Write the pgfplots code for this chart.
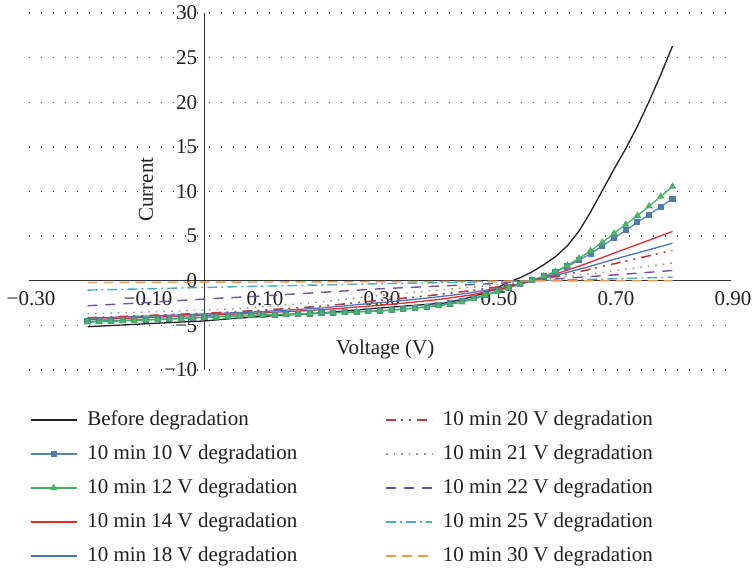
\documentclass[border=0pt]{standalone}
\usepackage{fontspec}
\setmainfont{Liberation Serif}
\usepackage{pgfplots}
\pgfplotsset{compat=1.18}
\definecolor{txt}{RGB}{35,31,32}
\definecolor{cBlack}{RGB}{35,31,32}
\definecolor{cBlueA}{RGB}{88,132,182}
\definecolor{cBlueAm}{RGB}{79,125,168}
\definecolor{cGreen}{RGB}{60,180,100}
\definecolor{cGreenm}{RGB}{120,178,95}
\definecolor{cRed}{RGB}{238,40,40}
\definecolor{cBlueB}{RGB}{70,115,196}
\definecolor{cDRed}{RGB}{185,60,60}
\definecolor{cGray}{RGB}{150,150,120}
\definecolor{cPurple}{RGB}{110,80,160}
\definecolor{cTeal}{RGB}{70,170,195}
\definecolor{cOrange}{RGB}{245,150,70}
\pgfplotsset{
  sBefore/.style={cBlack, line width=0.65pt, no markers},
  sTen/.style={cBlueA, line width=0.65pt, mark=square*, mark size=1.2pt, mark options={solid, fill=cBlueAm, draw=cBlueAm}},
  sTwelve/.style={cGreen, line width=0.65pt, mark=triangle*, mark size=1.5pt, mark options={solid, fill=cGreenm, draw=cGreen}},
  sFourteen/.style={cRed, line width=0.65pt, no markers},
  sEighteen/.style={cBlueB, line width=0.65pt, no markers},
  sTwenty/.style={cDRed, line width=0.8pt, no markers, dash pattern=on 5pt off 2.5pt on 1pt off 3pt on 1pt off 3pt},
  sTwentyOne/.style={cGray, line width=0.7pt, no markers, dash pattern=on 0.8pt off 3pt},
  sTwentyTwo/.style={cPurple, line width=0.7pt, no markers, dash pattern=on 5pt off 4pt},
  sTwentyFive/.style={cTeal, line width=0.7pt, no markers, dash pattern=on 5pt off 2pt on 1pt off 2pt},
  sThirty/.style={cOrange, line width=0.7pt, no markers, dash pattern=on 5pt off 3pt},
}
\begin{document}
\fontsize{10.5}{12.6}\selectfont
\begin{tikzpicture}[font=\fontsize{10.5}{12.6}\selectfont, text=txt]
\path[use as bounding box] (-14.5pt,-99pt) rectangle (362pt,185pt);
\begin{axis}[
  at={(0pt,0pt)}, anchor=south west,
  scale only axis, width=351pt, height=178.5pt,
  xmin=-0.3, xmax=0.9, ymin=-10, ymax=30,
  axis lines=middle,
  axis line style={-, color=black!80, line width=0.6pt},
  every inner x axis line/.append style={-},
  every inner y axis line/.append style={-},
  hide obscured x ticks=false, hide obscured y ticks=false,
  xtick={-0.3,-0.1,0.1,0.3,0.5,0.7,0.9},
  xticklabels={{−0.30},{−0.10},{0.10},{0.30},{0.50},{0.70},{0.90}},
  ytick={-10,-5,0,5,10,15,20,25,30},
  yticklabels={{−10},{−5},{0},{5},{10},{15},{20},{25},{30}},
  major tick length=0pt,
  xticklabel style={yshift=-1.5pt, xshift=1pt},
  ymajorgrids,
  major grid style={dash pattern=on 0.6pt off 5.4pt, line width=0.7pt, black!70},
  xlabel={Voltage (V)}, ylabel={Current},
  xlabel style={at={(axis description cs:0.5075,0.0575)}, anchor=center},
  ylabel style={at={(axis description cs:0.1667,0.505)}, anchor=center, rotate=90},
  clip=false,
  legend image code/.code={\draw[mark repeat=2,mark phase=2,#1] plot coordinates {(0pt,0pt) (11.5pt,0pt) (23pt,0pt)};},
  legend style={
    at={(axis description cs:0,0)}, anchor=north west, xshift=0.5pt, yshift=-16.5pt,
    draw=none, fill=none, inner sep=0pt, outer sep=0pt,
    legend columns=2,
    nodes={inner ysep=0pt, inner xsep=0pt, minimum height=17pt},
    row sep=0pt,
    /tikz/every odd column/.append style={column sep=5pt},
    /tikz/every even column/.append style={column sep=44pt},
  },
  legend cell align=left,
]
% Before degradation
\addplot[sBefore, forget plot] coordinates {
(-0.20,-5.15) (-0.10,-4.82) (0.00,-4.50) (0.05,-4.22) (0.10,-4.00) (0.20,-3.60)
(0.30,-3.05) (0.35,-2.80) (0.41,-2.50) (0.44,-2.10) (0.47,-1.55) (0.50,-0.80)
(0.52,-0.15) (0.54,0.35) (0.56,1.00) (0.58,1.80) (0.60,2.70) (0.62,3.90)
(0.64,5.55) (0.66,7.70) (0.68,10.1) (0.70,12.5) (0.72,14.8) (0.74,17.3)
(0.76,20.1) (0.78,23.1) (0.80,26.3)};
% 10 min 10 V
\addplot[sTen, forget plot] coordinates {
(-0.20,-4.55) (-0.18,-4.51) (-0.16,-4.47) (-0.14,-4.43) (-0.12,-4.39) (-0.10,-4.35)
(-0.08,-4.31) (-0.06,-4.26) (-0.04,-4.21) (-0.02,-4.15) (0.00,-4.09) (0.02,-4.03)
(0.04,-3.97) (0.06,-3.92) (0.08,-3.87) (0.10,-3.83) (0.12,-3.79) (0.14,-3.75)
(0.16,-3.71) (0.18,-3.67) (0.20,-3.62) (0.22,-3.57) (0.24,-3.52) (0.26,-3.47)
(0.28,-3.41) (0.30,-3.35) (0.32,-3.26) (0.34,-3.16) (0.36,-3.04) (0.38,-2.90)
(0.40,-2.74) (0.42,-2.55) (0.44,-2.30) (0.46,-1.97) (0.48,-1.58) (0.50,-1.18)
(0.52,-0.75) (0.54,-0.32) (0.56,0.08) (0.58,0.50) (0.60,1.00) (0.62,1.60)
(0.64,2.30) (0.66,3.05) (0.68,3.90) (0.70,4.78) (0.72,5.65) (0.74,6.55)
(0.76,7.40) (0.78,8.30) (0.80,9.20)};
% 10 min 12 V
\addplot[sTwelve, forget plot] coordinates {
(-0.20,-4.65) (-0.18,-4.60) (-0.16,-4.55) (-0.14,-4.50) (-0.12,-4.45) (-0.10,-4.40)
(-0.08,-4.35) (-0.06,-4.30) (-0.04,-4.25) (-0.02,-4.18) (0.00,-4.12) (0.02,-4.06)
(0.04,-4.00) (0.06,-3.95) (0.08,-3.90) (0.10,-3.86) (0.12,-3.82) (0.14,-3.78)
(0.16,-3.74) (0.18,-3.70) (0.20,-3.65) (0.22,-3.60) (0.24,-3.55) (0.26,-3.50)
(0.28,-3.45) (0.30,-3.40) (0.32,-3.30) (0.34,-3.20) (0.36,-3.08) (0.38,-2.95)
(0.40,-2.80) (0.42,-2.63) (0.44,-2.40) (0.46,-2.05) (0.48,-1.65) (0.50,-1.25)
(0.52,-0.80) (0.54,-0.35) (0.56,0.05) (0.58,0.50) (0.60,1.05) (0.62,1.70)
(0.64,2.50) (0.66,3.35) (0.68,4.30) (0.70,5.30) (0.72,6.30) (0.74,7.30)
(0.76,8.35) (0.78,9.45) (0.80,10.55)};
% 10 min 14 V
\addplot[sFourteen, forget plot] coordinates {
(-0.20,-4.35) (-0.10,-4.12) (0.00,-3.88) (0.10,-3.60) (0.20,-3.25) (0.30,-2.75)
(0.35,-2.45) (0.40,-2.10) (0.45,-1.65) (0.50,-1.00) (0.53,-0.55) (0.56,0.00)
(0.60,0.75) (0.65,1.85) (0.70,3.10) (0.75,4.30) (0.80,5.52)};
% 10 min 18 V
\addplot[sEighteen, forget plot] coordinates {
(-0.20,-4.20) (-0.10,-3.95) (0.00,-3.72) (0.10,-3.45) (0.20,-3.05) (0.30,-2.45)
(0.35,-2.15) (0.40,-1.80) (0.45,-1.40) (0.50,-0.85) (0.53,-0.45) (0.56,0.00)
(0.60,0.60) (0.65,1.45) (0.70,2.40) (0.75,3.30) (0.80,4.20)};
% 10 min 20 V
\addplot[sTwenty, forget plot] coordinates {
(-0.20,-4.15) (-0.10,-3.90) (0.00,-3.65) (0.10,-3.30) (0.20,-2.85) (0.30,-2.20)
(0.35,-1.90) (0.40,-1.55) (0.45,-1.15) (0.50,-0.70) (0.53,-0.35) (0.56,0.00)
(0.60,0.45) (0.65,1.15) (0.70,1.90) (0.75,2.65) (0.80,3.40)};
% 10 min 21 V
\addplot[sTwentyOne, forget plot] coordinates {
(-0.20,-3.70) (-0.10,-3.50) (0.00,-3.30) (0.05,-3.15) (0.10,-2.90) (0.15,-2.65)
(0.20,-2.35) (0.25,-2.00) (0.30,-1.65) (0.35,-1.35) (0.40,-1.05) (0.45,-0.75)
(0.50,-0.45) (0.56,0.00) (0.60,0.30) (0.65,0.70) (0.70,1.10) (0.75,1.55) (0.80,2.00)};
% 10 min 22 V
\addplot[sTwentyTwo, forget plot] coordinates {
(-0.20,-2.80) (-0.10,-2.45) (0.00,-2.05) (0.10,-1.70) (0.20,-1.30) (0.30,-0.90)
(0.40,-0.60) (0.50,-0.30) (0.56,0.00) (0.60,0.20) (0.70,0.65) (0.80,1.15)};
% 10 min 25 V
\addplot[sTwentyFive, forget plot] coordinates {
(-0.20,-1.05) (-0.10,-0.90) (0.00,-0.75) (0.10,-0.60) (0.20,-0.47) (0.30,-0.33)
(0.40,-0.22) (0.50,-0.10) (0.56,0.00) (0.60,0.07) (0.70,0.22) (0.80,0.40)};
% 10 min 30 V
\addplot[sThirty, forget plot] coordinates {
(-0.20,-0.20) (0.00,-0.16) (0.20,-0.12) (0.40,-0.08) (0.56,-0.02) (0.80,0.02)};
% legend, filled column by column
\addlegendimage{sBefore}\addlegendentry{Before degradation}
\addlegendimage{sTwenty}\addlegendentry{10 min 20 V degradation}
\addlegendimage{sTen}\addlegendentry{10 min 10 V degradation}
\addlegendimage{sTwentyOne}\addlegendentry{10 min 21 V degradation}
\addlegendimage{sTwelve}\addlegendentry{10 min 12 V degradation}
\addlegendimage{sTwentyTwo}\addlegendentry{10 min 22 V degradation}
\addlegendimage{sFourteen}\addlegendentry{10 min 14 V degradation}
\addlegendimage{sTwentyFive}\addlegendentry{10 min 25 V degradation}
\addlegendimage{sEighteen}\addlegendentry{10 min 18 V degradation}
\addlegendimage{sThirty}\addlegendentry{10 min 30 V degradation}
\end{axis}
\end{tikzpicture}
\end{document}
